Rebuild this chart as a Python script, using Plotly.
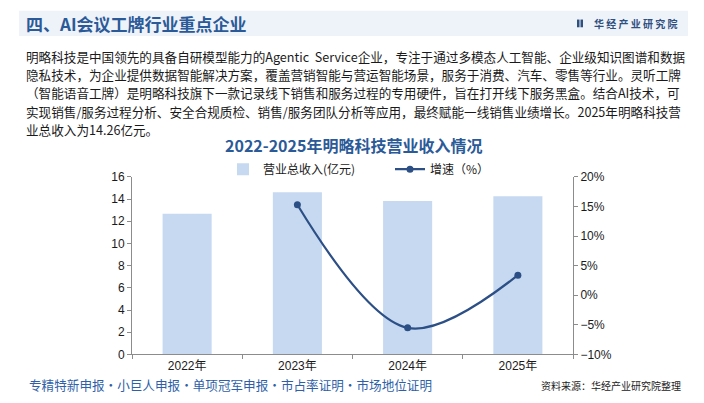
import plotly.graph_objects as go

W, H = 704, 403
years = ["2022年", "2023年", "2024年", "2025年"]
revenue = [12.68, 14.62, 13.82, 14.26]
growth = [None, 15.3, -5.5, 3.4]

body_lines = [
    "明略科技是中国领先的具备自研模型能力的Agentic  Service企业，专注于通过多模态人工智能、企业级知识图谱和数据",
    "隐私技术，为企业提供数据智能解决方案，覆盖营销智能与营运智能场景，服务于消费、汽车、零售等行业。灵听工牌",
    "（智能语音工牌）是明略科技旗下一款记录线下销售和服务过程的专用硬件，旨在打开线下服务黑盒。结合AI技术，可",
    "实现销售/服务过程分析、安全合规质检、销售/服务团队分析等应用，最终赋能一线销售业绩增长。2025年明略科技营",
    "业总收入为14.26亿元。",
]
header_title = "四、AI会议工牌行业重点企业"
chart_title = "2022-2025年明略科技营业收入情况"
footer_left = "专精特新申报·小巨人申报·单项冠军申报·市占率证明·市场地位证明"
footer_right = "资料来源：华经产业研究院整理"
brand = "华 经 产 业 研 究 院"

FONT = "Liberation Sans, Noto Sans CJK SC, sans-serif"
CJK = "Noto Sans CJK SC, sans-serif"
BLUE = "#2b5a98"

def px(x):
    return x / W

def py(y):
    return 1 - y / H

fig = go.Figure()
fig.add_trace(go.Bar(
    x=years, y=revenue, name="营业总收入(亿元)",
    marker=dict(color="#c6d9f0", line=dict(width=0)), width=0.445,
    yaxis="y",
))
fig.add_trace(go.Scatter(
    x=years, y=growth, name="增速（%）", mode="lines+markers",
    line=dict(color="#2c4f86", width=2.2, shape="spline", smoothing=1.0),
    marker=dict(color="#2c4f86", size=7),
    yaxis="y2",
))

annotations = []
annotations.append(dict(text=header_title, x=px(24), y=py(17), xref="paper", yref="paper",
                        xanchor="left", yanchor="middle", showarrow=False,
                        font=dict(family=CJK, size=17, color=BLUE, weight="bold")))
annotations.append(dict(text=brand, x=px(592), y=py(17), xref="paper", yref="paper",
                        xanchor="left", yanchor="middle", showarrow=False,
                        font=dict(family=CJK, size=10, color="#2f4f7f", weight="bold")))
line_y = [51, 70, 89, 108, 127]
for t, yy in zip(body_lines, line_y):
    annotations.append(dict(text=t, x=px(24), y=py(yy), xref="paper", yref="paper",
                            xanchor="left", yanchor="middle", showarrow=False,
                            font=dict(family=CJK, size=12.6, color="#1a1a1a")))
annotations.append(dict(text=chart_title, x=px(353), y=py(143), xref="paper", yref="paper",
                        xanchor="center", yanchor="middle", showarrow=False,
                        font=dict(family=CJK, size=16, color=BLUE, weight="bold")))
annotations.append(dict(text=footer_left, x=px(27), y=py(391), xref="paper", yref="paper",
                        xanchor="left", yanchor="middle", showarrow=False,
                        font=dict(family=CJK, size=12.6, color="#2f5fa8")))
annotations.append(dict(text=footer_right, x=px(683), y=py(392), xref="paper", yref="paper",
                        xanchor="right", yanchor="middle", showarrow=False,
                        font=dict(family=CJK, size=10, color="#222222")))

shapes = [
    dict(type="rect", xref="paper", yref="paper", x0=px(19), x1=px(688), y0=py(30), y1=py(4),
         fillcolor="#eef2f9", line=dict(width=0), layer="below"),
    dict(type="rect", xref="paper", yref="paper", x0=px(577), x1=px(579.5), y0=py(21), y1=py(13),
         fillcolor="#2f4f7f", line=dict(width=0)),
    dict(type="rect", xref="paper", yref="paper", x0=px(580.5), x1=px(583), y0=py(21), y1=py(13),
         fillcolor="#2f4f7f", line=dict(width=0)),
]

axis_common = dict(showline=True, linecolor="#8c8c8c", linewidth=1, ticks="outside",
                   tickcolor="#8c8c8c", ticklen=4, showgrid=False, zeroline=False,
                   tickfont=dict(family=FONT, size=12, color="#1a1a1a"))

fig.update_layout(
    width=W, height=H, autosize=False,
    margin=dict(l=0, r=0, t=0, b=0),
    paper_bgcolor="white", plot_bgcolor="white",
    showlegend=True,
    legend=dict(orientation="h", x=px(223), y=py(168), xanchor="left", yanchor="middle",
                font=dict(family=CJK, size=12, color="#1a1a1a"), itemwidth=30,
                entrywidth=122, entrywidthmode="pixels",
                bgcolor="rgba(0,0,0,0)", traceorder="normal"),
    xaxis=dict(domain=[px(132), px(573)], type="category", tickson="boundaries",
               anchor="y", **axis_common),
    yaxis=dict(domain=[1 - 360 / H, 1 - 176 / H], range=[0, 16], dtick=2, anchor="x",
               **axis_common),
    yaxis2=dict(overlaying="y", side="right", range=[-10, 20], dtick=5, ticksuffix="%",
                anchor="x", **axis_common),
    annotations=annotations,
    shapes=shapes,
)

fig.write_html("out.html", config={"displayModeBar": False},
               post_script="document.body.style.margin='0';document.body.style.overflow='hidden';")
